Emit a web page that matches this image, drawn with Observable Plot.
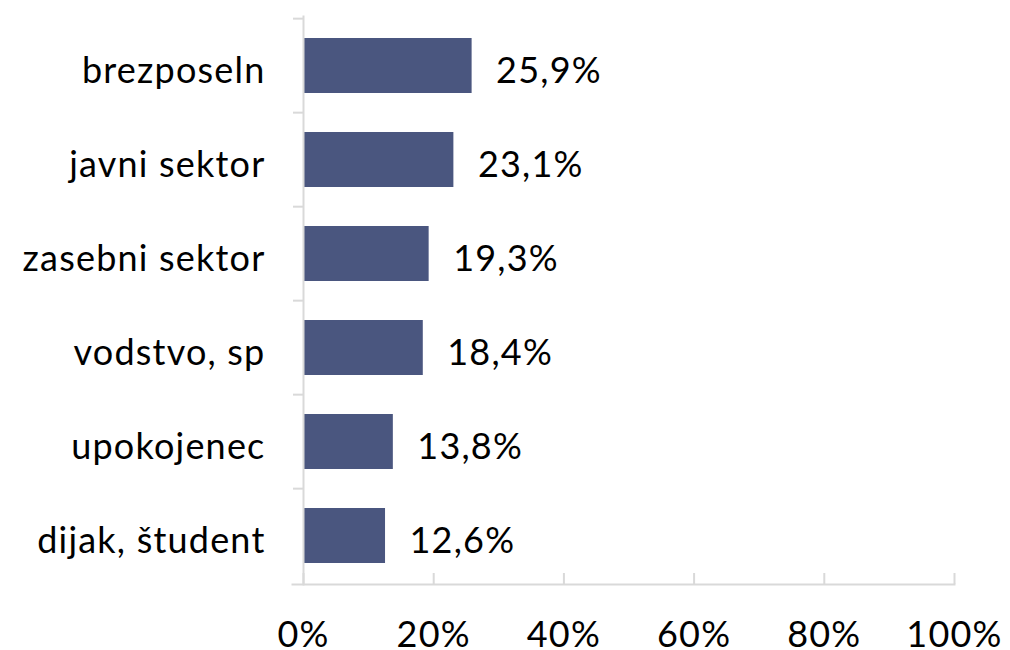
<!DOCTYPE html>
<html><head><meta charset="utf-8">
<script src="https://cdn.jsdelivr.net/npm/d3@7"></script>
<script src="https://cdn.jsdelivr.net/npm/@observablehq/plot@0.6"></script>
<style>body{margin:0;background:#fff}</style>
</head><body><div id="chart"></div>
<script>
const categories = ["brezposeln","javni sektor","zasebni sektor","vodstvo, sp","upokojenec","dijak, študent"];
const values = [25.9,23.1,19.3,18.4,13.8,12.6];
const xTicks = [0,20,40,60,80,100];
const data = categories.map((c,i)=>({category:c, value: values[i]}));

const W=1010,H=650, mL=303, mR=56, mT=16, mB=66;
const plotH = H-mT-mB, plotW = W-mL-mR;
const step = plotH/categories.length;
const fmt = v => v.toFixed(1).replace(".", ",") + "%";
const grey="#d9d9d9", font = "Lato, 'Open Sans', sans-serif";

const chart = Plot.plot({
 width:W, height:H, marginLeft:mL, marginRight:mR, marginTop:mT, marginBottom:mB,
 style:{fontFamily:font, fontSize:"36px", color:"#000", background:"#fff", letterSpacing:"1.2px"},
 x:{domain:[0,100], ticks: xTicks, tickFormat: d=>d+"%"},
 y:{domain:categories, paddingInner:0.42, paddingOuter:0.21},
 marks:[
   Plot.barX(data,{x:"value", y:"category", fill:"#4a567f"}),
   Plot.text(data,{x:"value", y:"category", text:d=>fmt(d.value), textAnchor:"start", dx:24, dy:5, fontSize:36, fill:"#000"}),
   Plot.frame({anchor:"left", stroke:grey, strokeWidth:2}),
   Plot.frame({anchor:"bottom", stroke:grey, strokeWidth:2, insetLeft:-11}),
   Plot.ruleX(xTicks,{x:d=>d, insetTop: plotH-11, stroke:grey, strokeWidth:2}),
   Plot.ruleY(categories, {y:d=>d, dy:-step/2, insetLeft:-10, insetRight:plotW, stroke:grey, strokeWidth:2}),
   Plot.axisY({tickSize:0, tickPadding:38, dy:5, label:null, fontSize:36}),
   Plot.axisX({ticks:xTicks, tickSize:0, tickPadding:37, label:null, fontSize:36, tickFormat:d=>d+"%"})
 ]
});
document.getElementById("chart").appendChild(chart);
</script>
</body></html>
